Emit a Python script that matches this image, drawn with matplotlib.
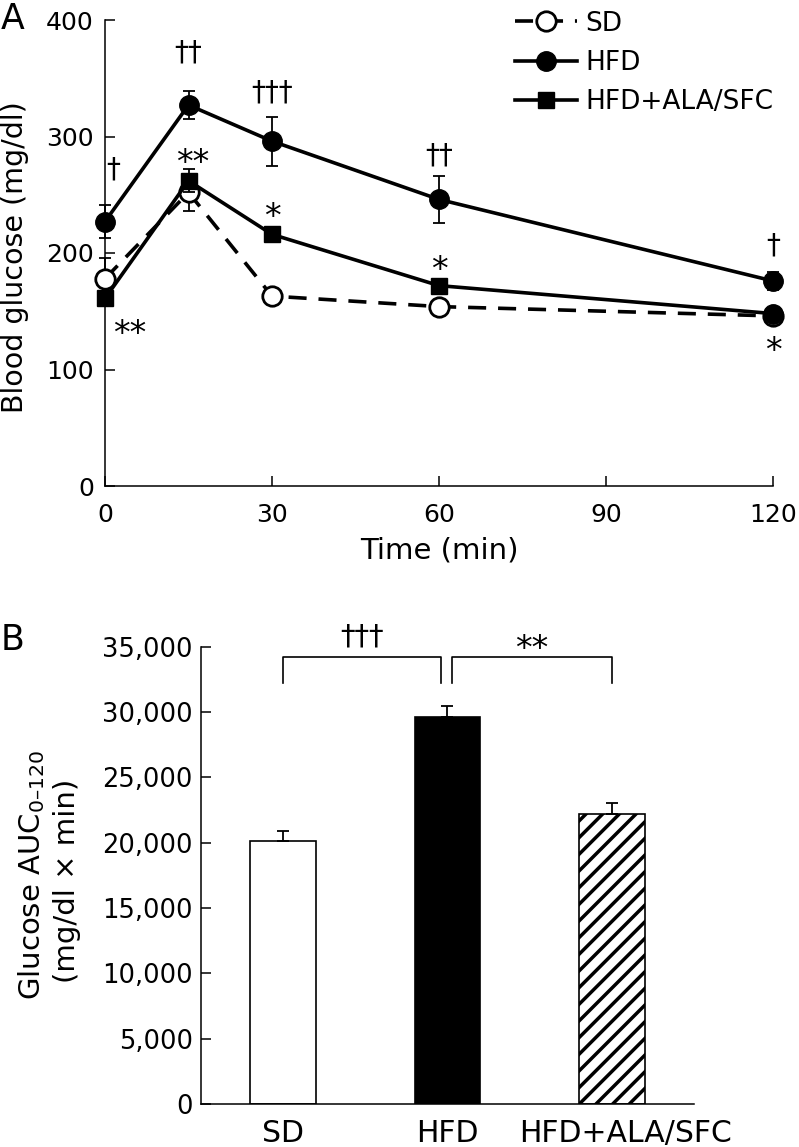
import numpy as np
import matplotlib
matplotlib.use('Agg')
import matplotlib.pyplot as plt
from matplotlib.lines import Line2D
from matplotlib.transforms import ScaledTranslation

plt.rcParams['font.family'] = ['DejaVu Sans']
plt.rcParams['mathtext.default'] = 'regular'
plt.rcParams['hatch.linewidth'] = 2.5

# ---------------- data: panel A ----------------
time = [0, 15, 30, 60, 120]
sd_mean = [178, 252, 163, 154, 146]
sd_err = [18, 16, 4, 4, 4]
hfd_mean = [227, 327, 296, 246, 176]
hfd_err = [14, 12, 21, 20, 8]
ala_mean = [161, 262, 216, 172, 148]
ala_err = [5, 10, 6, 5, 5]
ala_marker = ['s', 's', 's', 's', 'o']
series_labels = ['SD', 'HFD', 'HFD+ALA/SFC']
xticks_A = [0, 30, 60, 90, 120]
yticks_A = [0, 100, 200, 300, 400]

# significance marks (text, time, glucose level of glyph centre)
ann_text = ['†', '††', '†††', '††', '†', '**', '*', '*', '**', '*']
ann_x = [1.5, 15, 30, 60, 120, 15.8, 30, 60, 4.5, 120]
ann_y = [273, 373, 339, 285, 208, 286, 239, 194, 139, 124]

# ---------------- data: panel B ----------------
groups = ['SD', 'HFD', 'HFD+ALA/SFC']
auc = [20100, 29600, 22200]
auc_err = [800, 850, 850]
bar_face = ['white', 'black', 'white']
bar_hatch = ['', '', '//']
yticks_B = [0, 5000, 10000, 15000, 20000, 25000, 30000, 35000]
ytick_labels_B = [f'{v:,}' for v in yticks_B]
brackets = [(0.0, 0.963, '†††'), (1.028, 2.0, '**')]
br_low, br_high = 32240, 34200

W, H = 799, 1147
fig = plt.figure(figsize=(W / 100, H / 100), dpi=100)

axA = fig.add_axes([105 / W, 1 - 486 / H, (773 - 105) / W, (486 - 20) / H])
axB = fig.add_axes([201 / W, 1 - 1104 / H, (694 - 201) / W, (1104 - 646.7) / H])

LW = 2.6
DASH = (5, 3.3)

# ---- Panel A ----
axA.errorbar(time, sd_mean, yerr=sd_err, fmt='none', ecolor='k', elinewidth=1.3,
             capsize=4.5, capthick=1.3, zorder=2, clip_on=False)
axA.plot(time, sd_mean, color='k', lw=LW, dashes=DASH, marker='o', ms=14,
         mfc='white', mec='k', mew=2, zorder=3, clip_on=False)

axA.errorbar(time, ala_mean, yerr=ala_err, fmt='none', ecolor='k', elinewidth=1.3,
             capsize=4.5, capthick=1.3, zorder=4, clip_on=False)
axA.plot(time, ala_mean, color='k', lw=LW, zorder=4, clip_on=False)
for t, v, m in zip(time, ala_mean, ala_marker):
    axA.plot([t], [v], linestyle='none', marker=m, ms=12 if m == 's' else 14,
             color='k', zorder=5, clip_on=False)

axA.errorbar(time, hfd_mean, yerr=hfd_err, fmt='none', ecolor='k', elinewidth=1.3,
             capsize=4.5, capthick=1.3, zorder=6, clip_on=False)
axA.plot(time, hfd_mean, color='k', lw=LW, marker='o', ms=14, mfc='k', mec='k',
         zorder=7, clip_on=False)

for txt, tx, ty in zip(ann_text, ann_x, ann_y):
    is_star = '*' in txt
    axA.annotate(txt, (tx, ty), xytext=(0, -7.5 if is_star else -1),
                 textcoords='offset points', ha='center', va='center',
                 fontsize=24 if is_star else 20, zorder=8)

axA.set_xlim(0, 120)
axA.set_ylim(0, 400)
axA.set_xticks(xticks_A)
axA.set_yticks(yticks_A)
axA.spines['top'].set_visible(False)
axA.spines['right'].set_visible(False)
for s in ['left', 'bottom']:
    axA.spines[s].set_linewidth(1.1)
axA.tick_params(axis='both', direction='in', length=7, width=1.1, labelsize=18)
axA.tick_params(axis='x', pad=12)
axA.tick_params(axis='y', pad=8)

handles = [
    Line2D([], [], color='k', lw=LW, dashes=DASH, marker='o', ms=14, mfc='white', mec='k', mew=2),
    Line2D([], [], color='k', lw=LW, marker='o', ms=14, mfc='k', mec='k'),
    Line2D([], [], color='k', lw=LW, marker='s', ms=12, mfc='k', mec='k'),
]
axA.legend(handles, series_labels, loc='upper left', bbox_to_anchor=(0.614, 1.02),
           frameon=False, fontsize=19, handlelength=2.35, handletextpad=0.3,
           labelspacing=0.5, borderpad=0, borderaxespad=0)

fig.text(15 / W, 1 - 257 / H, 'Blood glucose (mg/dl)', rotation=90,
         ha='center', va='center', fontsize=20.5)
fig.text(439 / W, 1 - 550 / H, 'Time (min)', ha='center', va='center', fontsize=21)
fig.text(13 / W, 1 - 19 / H, 'A', ha='center', va='center', fontsize=25)

# ---- Panel B ----
xb = np.arange(len(groups))
bars = axB.bar(xb, auc, width=0.4, color=bar_face, edgecolor='k', linewidth=1.2, zorder=2)
for b, h in zip(bars, bar_hatch):
    b.set_hatch(h)
axB.errorbar(xb, auc, yerr=[np.zeros(len(auc)), auc_err], fmt='none', ecolor='k',
             elinewidth=1.3, capsize=4, capthick=1.3, zorder=3)

for x0, x1, txt in brackets:
    axB.plot([x0, x0, x1, x1], [br_low, br_high, br_high, br_low], color='k', lw=1.2,
             clip_on=False)
    is_star = '*' in txt
    axB.annotate(txt, ((x0 + x1) / 2, br_high), xytext=(0, 14.8 if not is_star else 5.5),
                 textcoords='offset points', ha='center', va='center',
                 fontsize=24 if is_star else 21)

axB.set_xlim(-0.5, 2.5)
axB.set_ylim(0, 35000)
axB.set_yticks(yticks_B)
axB.set_yticklabels(ytick_labels_B)
axB.set_xticks(xb)
axB.set_xticklabels(groups)
axB.spines['top'].set_visible(False)
axB.spines['right'].set_visible(False)
for s in ['left', 'bottom']:
    axB.spines[s].set_linewidth(1.1)
axB.tick_params(axis='y', direction='in', length=7, width=1.1, labelsize=18.5, pad=6)
axB.tick_params(axis='x', length=0, labelsize=21.5, pad=11)
lbl = axB.xaxis.get_major_ticks()[2].label1
lbl.set_transform(lbl.get_transform() + ScaledTranslation(0.14, 0, fig.dpi_scale_trans))

fig.text(32 / W, 1 - 875 / H, 'Glucose AUC$_{0\u2013120}$', rotation=90,
         ha='center', va='center', fontsize=21)
fig.text(67 / W, 1 - 881 / H, '(mg/dl \u00d7 min)', rotation=90,
         ha='center', va='center', fontsize=21)
fig.text(13 / W, 1 - 640 / H, 'B', ha='center', va='center', fontsize=25)

fig.savefig('out.png', dpi=100)
